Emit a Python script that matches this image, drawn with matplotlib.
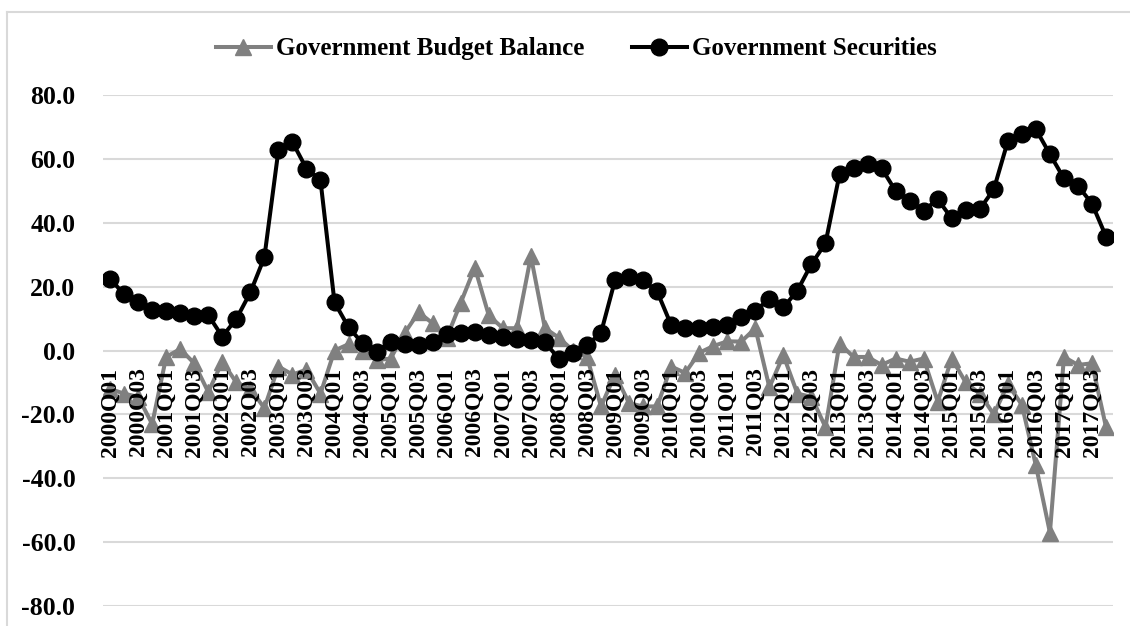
import matplotlib.pyplot as plt
from matplotlib.lines import Line2D
from matplotlib.ticker import FormatStrFormatter

# -----------------------
# Data
# -----------------------
years = list(range(2000, 2018))
quarter_labels = [f"{y}Q0{q}" for y in years for q in range(1, 5)]

budget_balance = [
    -12, -13.5, -14.5, -23, -2, 0.5, -4, -13,
    -3.5, -10, -12, -18, -5, -7.5, -6, -13.5,
    0, 2, 0, -3, -2.5, 5.5, 12, 8.5,
    4, 15, 26, 11, 7, 7, 29.5, 7,
    4, 0, -2, -17.5, -7.5, -16.5, -17.5, -17.5,
    -5, -7, -0.7, 1.4, 2.9, 2.8, 7, -11.5,
    -1.5, -13.5, -14.5, -24, 2.2, -2, -2, -4.5,
    -2.5, -3.5, -2.5, -16, -2.5, -10, -13.5, -20,
    -10.5, -17, -36, -57, -2, -4.5, -4, -24,
]

gov_securities = [
    22.4, 17.7, 15.1, 12.7, 12.5, 11.8, 10.9, 11.1,
    4.4, 9.9, 18.2, 29.2, 62.7, 65.3, 57.0, 53.3,
    15.1, 7.3, 2.3, -0.3, 2.6, 2.1, 1.8, 2.8,
    5.2, 5.4, 5.7, 4.9, 4.4, 3.6, 3.3, 2.6,
    -2.6, -0.8, 1.6, 5.6, 22.1, 23.1, 22.1, 18.5,
    8.0, 7.0, 7.0, 7.5, 8.0, 10.6, 12.5, 16.1,
    13.5, 18.8, 27.1, 33.6, 55.2, 57.3, 58.3, 57.1,
    50.0, 46.9, 43.8, 47.4, 41.4, 44.0, 44.3, 50.5,
    65.6, 67.7, 69.3, 61.5, 53.9, 51.6, 46.0, 35.7,
]

series_names = ["Government Budget Balance", "Government Securities"]

# -----------------------
# Style
# -----------------------
font = {"family": "Liberation Serif", "weight": "bold", "size": 17}
legend_font = dict(font, size=18)
grey = "#808080"
grid_col = "#d9d9d9"

fig = plt.figure(figsize=(11.3, 6.26), dpi=100)
ax = fig.add_axes([0.0912, 0.032, 0.8938, 0.816])

x = list(range(len(quarter_labels)))
ax.plot(x, budget_balance, color=grey, lw=2.9, marker="^", ms=11,
        label=series_names[0], zorder=3)
ax.plot(x, gov_securities, color="black", lw=2.9, marker="o", ms=12,
        label=series_names[1], zorder=4)

ax.set_xlim(-0.5, len(x) - 0.5)
ax.set_ylim(-80, 80)
ax.set_yticks(range(-80, 81, 20))
ax.yaxis.set_major_formatter(FormatStrFormatter("%.1f"))
ax.yaxis.grid(True, color=grid_col, lw=1.5)
ax.set_axisbelow(True)
ax.set_xticks([])
for s in ax.spines.values():
    s.set_visible(False)
ax.tick_params(axis="y", length=0, pad=20)
for lbl in ax.get_yticklabels():
    lbl.set_fontfamily(font["family"])
    lbl.set_fontweight(font["weight"])
    lbl.set_fontsize(18.5)

# category labels sit right under the zero line
for i in range(0, len(x), 2):
    ax.annotate(quarter_labels[i], xy=(i, 0), xytext=(0, -17),
                textcoords="offset pixels", rotation=90,
                ha="center", va="top", zorder=5, **font)

# chart area border (left + top)
fig.add_artist(Line2D([7 / 1130, 7 / 1130], [0, 1 - 12 / 626],
                      transform=fig.transFigure, color=grid_col, lw=1.5))
fig.add_artist(Line2D([7 / 1130, 1], [1 - 12 / 626, 1 - 12 / 626],
                      transform=fig.transFigure, color=grid_col, lw=1.5))

fig.legend(loc="center", bbox_to_anchor=(0.51, 0.922), ncol=2,
           frameon=False, prop=legend_font, handlelength=2.2,
           columnspacing=1.9, handletextpad=0.2)

fig.savefig("out.png", dpi=100)
